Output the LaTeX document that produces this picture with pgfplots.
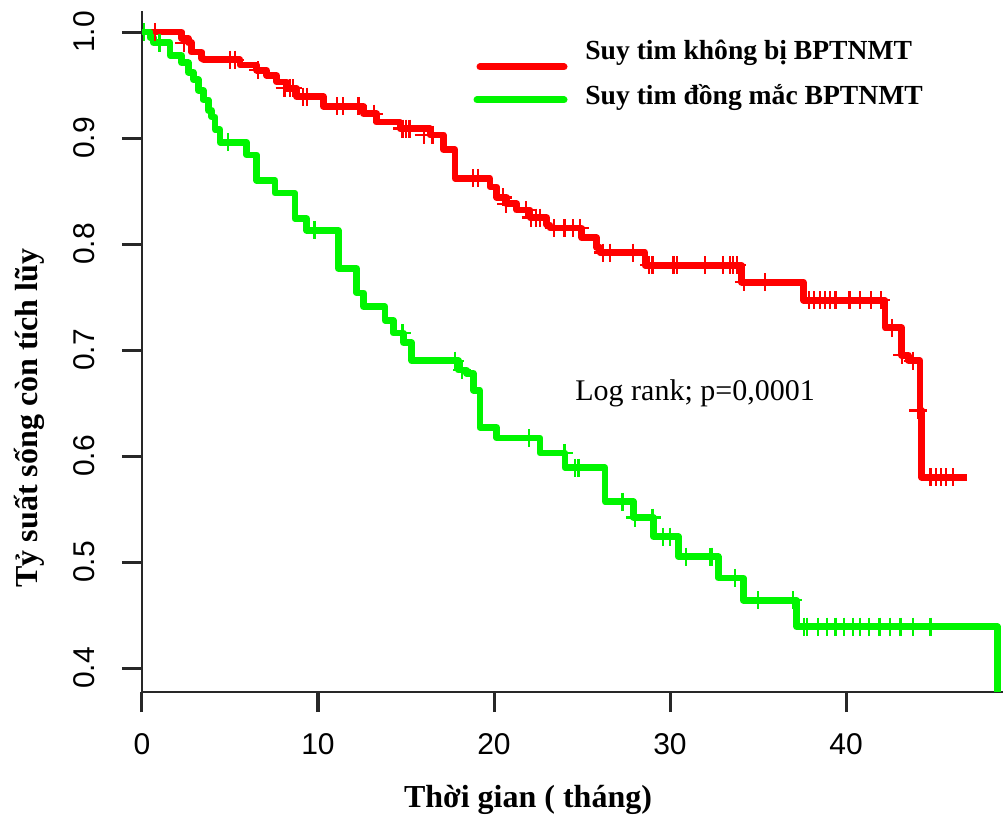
\documentclass[border=0pt]{standalone}
\usepackage{pgfplots}
\pgfplotsset{compat=1.18}
\usepackage{fontspec}
\setmainfont{Liberation Serif}
\newfontfamily\arialfont{Liberation Sans}
\definecolor{kmred}{RGB}{255,0,0}
\definecolor{kmgreen}{RGB}{0,245,0}
\definecolor{axgray}{RGB}{40,40,40}
\begin{document}
\begin{tikzpicture}
\useasboundingbox (-71pt,-62pt) rectangle (433pt,346pt);
\begin{axis}[
  at={(0,0)}, anchor=south west,
  scale only axis, width=430.32pt, height=340.58pt,
  xmin=0, xmax=48.9, ymin=0.3774, ymax=1.02,
  clip=false,
  axis x line*=bottom, axis y line*=left,
  axis line style={axgray, line width=1.4pt},
  tick align=outside,
  major tick length=10pt,
  tick style={draw=axgray, line width=1.5pt},
  xtick={0,10,20,30,40},
  ytick={0.4,0.5,0.6,0.7,0.8,0.9,1.0},
  /pgf/number format/assume math mode=true,
  yticklabel shift=10pt,
  xticklabel shift=7pt,
  yticklabel style={/pgf/number format/.cd, fixed, fixed zerofill, precision=1, /tikz/.cd, rotate=90, anchor=south, font=\arialfont\fontsize{15}{18}\selectfont},
  xticklabel style={font=\arialfont\fontsize{15}{18}\selectfont},
  every axis plot/.append style={line width=3.3pt, line join=miter},
]
% red: Suy tim khong bi BPTNMT
\addplot[kmred, const plot, line join=round] coordinates {
(0,1.0)(2.25,0.994)(2.63,0.99)(2.82,0.981)(3.39,0.975)(3.48,0.974)(5.57,0.969)(6.52,0.964)(7.08,0.959)(7.65,0.953)(8.22,0.947)(8.79,0.939)(10.3,0.93)(12.58,0.923)(13.33,0.915)(14.66,0.909)(16.36,0.903)(17.12,0.889)(17.78,0.862)(19.77,0.854)(20.15,0.844)(20.72,0.838)(21.29,0.832)(22.05,0.825)(22.99,0.818)(23.18,0.815)(24.98,0.806)(25.83,0.797)(26.02,0.792)(28.58,0.78)(34.07,0.764)(37.58,0.747)(42.22,0.721)(43.16,0.695)(43.54,0.69)(44.2,0.643)(44.3,0.58)(46.86,0.58)
};
% green: Suy tim dong mac BPTNMT
\addplot[kmgreen, const plot, line join=round] coordinates {
(0,1.0)(0.45,0.995)(0.64,0.99)(1.59,0.978)(2.25,0.971)(2.63,0.962)(2.92,0.955)(3.2,0.945)(3.48,0.936)(3.77,0.926)(3.96,0.92)(4.15,0.908)(4.43,0.896)(5.95,0.884)(6.52,0.86)(7.56,0.848)(8.69,0.824)(9.36,0.813)(11.15,0.777)(12.2,0.754)(12.58,0.741)(13.81,0.728)(14.28,0.716)(14.85,0.707)(15.32,0.69)(17.97,0.681)(18.45,0.678)(18.83,0.662)(19.2,0.627)(20.15,0.617)(22.61,0.603)(24.03,0.589)(26.31,0.557)(27.92,0.542)(29.05,0.524)(30.47,0.505)(32.74,0.485)(34.16,0.464)(37.2,0.439)(48.6,0.439)(48.6,0.3774)
};
% censor marks
\addplot[kmred, only marks, mark=+, mark size=4.5pt, mark options={line width=1.1pt}] coordinates {
(0.75,1.0)(2.4,0.99)(5.0,0.974)(5.3,0.974)(6.6,0.964)(8.1,0.947)(8.4,0.947)(8.6,0.947)(9.15,0.939)(9.36,0.939)(11.1,0.93)(11.4,0.93)(12.3,0.93)(13.2,0.923)(14.8,0.909)(15.0,0.909)(15.2,0.909)(16.0,0.903)(16.5,0.903)(18.8,0.862)(19.1,0.862)(20.5,0.844)(20.7,0.838)(21.8,0.832)(22.1,0.825)(22.4,0.825)(22.6,0.825)(23.4,0.815)(24.0,0.815)(24.5,0.815)(24.9,0.815)(26.2,0.792)(26.6,0.792)(27.9,0.792)(28.8,0.78)(29.0,0.78)(30.2,0.78)(30.4,0.78)(32.0,0.78)(33.0,0.78)(33.4,0.78)(33.6,0.78)(33.8,0.78)(34.2,0.764)(35.4,0.764)(37.9,0.747)(38.2,0.747)(38.5,0.747)(38.8,0.747)(39.1,0.747)(39.4,0.747)(40.2,0.747)(40.8,0.747)(41.4,0.747)(42.0,0.747)(42.6,0.721)(43.2,0.695)(43.8,0.69)(44.1,0.643)(44.8,0.58)(45.1,0.58)(45.4,0.58)(45.7,0.58)(46.1,0.58)
};
\addplot[kmgreen, only marks, mark=+, mark size=4.5pt, mark options={line width=1.1pt}] coordinates {
(0.1,1.0)(1.0,0.99)(4.9,0.896)(9.8,0.813)(14.8,0.716)(17.8,0.69)(18.2,0.681)(22.0,0.617)(24.0,0.603)(24.6,0.589)(24.8,0.589)(27.3,0.557)(28.0,0.542)(29.0,0.542)(29.6,0.524)(30.0,0.524)(30.9,0.505)(32.3,0.505)(32.4,0.505)(33.7,0.485)(35.0,0.464)(37.0,0.464)(37.6,0.439)(37.8,0.439)(38.4,0.439)(38.9,0.439)(39.4,0.439)(39.9,0.439)(40.4,0.439)(40.8,0.439)(41.3,0.439)(41.9,0.439)(42.5,0.439)(43.1,0.439)(43.8,0.439)(44.8,0.439)
};
\end{axis}
% outward tick marks (axis decoration)
\foreach \tx in {0,88,176,264,352} {\draw[axgray, line width=1.5pt] (\tx pt,0pt) -- (\tx pt,-10pt);}
\foreach \ty in {11.98,64.98,117.98,170.98,223.98,276.98,329.98} {\draw[axgray, line width=1.5pt] (0pt,\ty pt) -- (-10pt,\ty pt);}
% legend
\draw[kmred, line width=3.5pt, line cap=round] (169pt,312.5pt) -- (211pt,312.5pt);
\draw[kmgreen, line width=3.5pt, line cap=round] (167.5pt,296pt) -- (211pt,296pt);
\node[anchor=base west, inner sep=0pt, font=\bfseries\fontsize{13.8}{16}\selectfont] at (221.5pt,316pt) {Suy tim không bị BPTNMT};
\node[anchor=base west, inner sep=0pt, font=\bfseries\fontsize{13.8}{16}\selectfont] at (221.5pt,293.5pt) {Suy tim đồng mắc BPTNMT};
% annotation
\node[anchor=base west, inner sep=0pt, font=\fontsize{15}{18}\selectfont] at (216.5pt,146pt) {Log rank; p=0,0001};
% axis labels
\node[anchor=base, inner sep=0pt, font=\bfseries\fontsize{16}{19}\selectfont] at (193pt,-57.5pt) {Thời gian ( tháng)};
\node[anchor=base, inner sep=0pt, rotate=90, font=\bfseries\fontsize{16}{19}\selectfont] at (-52pt,137pt) {Tỷ suất sống còn tích lũy};
\end{tikzpicture}
\end{document}
